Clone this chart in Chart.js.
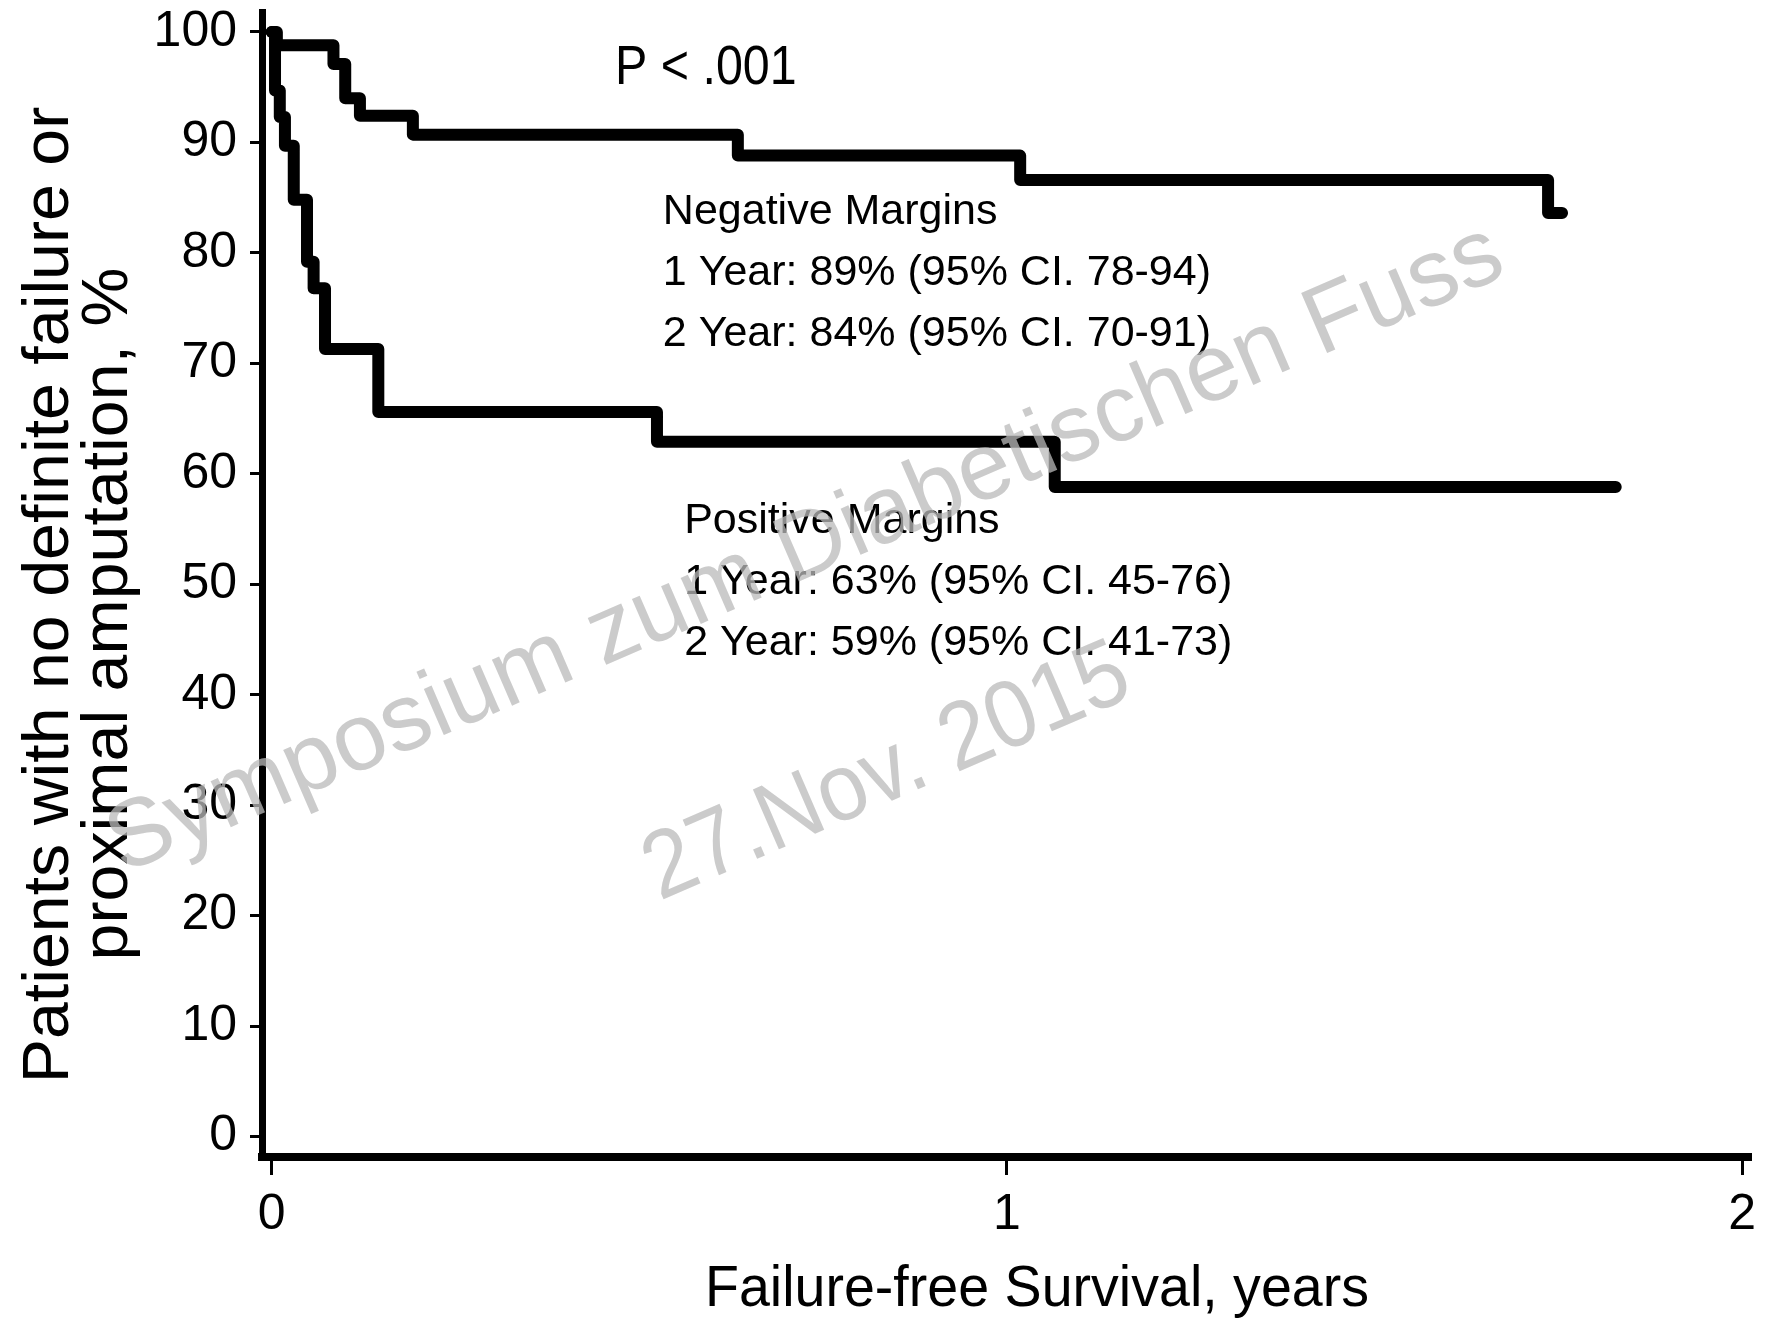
<!DOCTYPE html>
<html>
<head>
<meta charset="utf-8">
<title>Failure-free survival by margin status</title>
<script src="https://cdn.jsdelivr.net/npm/chart.js@4.4.1/dist/chart.umd.min.js"></script>
<style>
  html, body { margin: 0; padding: 0; background: #fff; }
  #wrap { width: 1768px; height: 1326px; position: relative; }
</style>
</head>
<body>
<div id="wrap"><canvas id="kmChart"></canvas></div>
<script>
// Kaplan-Meier steps (time in years, % without failure)
const negTimes = [0, 0.007, 0.084, 0.100, 0.120, 0.192, 0.634, 1.018, 1.736, 1.755];
const negSurv  = [100, 98.8, 97.1, 94.0, 92.4, 90.7, 88.8, 86.6, 83.6, 83.6];

const posTimes = [0, 0.0045, 0.011, 0.018, 0.030, 0.048, 0.057, 0.0725, 0.145, 0.524, 1.065, 1.828];
const posSurv  = [100, 94.7, 92.3, 89.7, 84.8, 79.2, 76.8, 71.3, 65.6, 62.9, 58.8, 58.8];

const xTicks = [0, 1, 2];
const yTicks = [0, 10, 20, 30, 40, 50, 60, 70, 80, 90, 100];

const xTitle = 'Failure-free Survival, years';
const yTitle = ['Patients with no definite failure or', 'proximal amputation, %'];
const pValueText = 'P < .001';
const negLabels = ['Negative Margins', '1 Year: 89% (95% CI. 78-94)', '2 Year: 84% (95% CI. 70-91)'];
const posLabels = ['Positive Margins', '1 Year: 63% (95% CI. 45-76)', '2 Year: 59% (95% CI. 41-73)'];
const watermark = ['Symposium zum Diabetischen Fuss', '27.Nov. 2015'];

const SANS = '"Liberation Sans", Arial, sans-serif';

function toPoints(times, surv) {
    return times.map((t, i) => ({ x: t, y: surv[i] }));
}

function putText(ctx, str, x, y, opts) {
    ctx.save();
    ctx.translate(x, y);
    if (opts.rotate) ctx.rotate(opts.rotate);
    ctx.scale(opts.sx || 1, 1);
    ctx.font = opts.font;
    ctx.fillStyle = opts.color || '#000';
    ctx.textAlign = opts.align || 'left';
    ctx.textBaseline = 'alphabetic';
    ctx.fillText(str, 0, 0);
    ctx.restore();
}

const textPlugin = {
    id: 'kmText',
    afterDatasetsDraw(chart) {
        const ctx = chart.ctx;
        const xs = chart.scales.x;
        const ys = chart.scales.y;

        // p value and the two summary blocks, anchored in data units
        putText(ctx, pValueText, xs.getPixelForValue(0.467), ys.getPixelForValue(95.3),
            { font: '55px ' + SANS, sx: 0.88 });

        const nx = xs.getPixelForValue(0.532);
        const ny = ys.getPixelForValue(82.6);
        negLabels.forEach((s, i) => putText(ctx, s, nx, ny + i * 61, { font: '43px ' + SANS }));

        const px = xs.getPixelForValue(0.561);
        const py = ys.getPixelForValue(54.6);
        posLabels.forEach((s, i) => putText(ctx, s, px, py + i * 61, { font: '43px ' + SANS }));
    },
    afterDraw(chart) {
        const ctx = chart.ctx;

        // axis titles
        putText(ctx, xTitle, 1037, 1306, { font: '57px ' + SANS, align: 'center', sx: 0.975 });
        putText(ctx, yTitle[0], 68, 595, { font: '65px ' + SANS, align: 'center', rotate: -Math.PI / 2, sx: 1.02 });
        putText(ctx, yTitle[1], 127, 614, { font: '65px ' + SANS, align: 'center', rotate: -Math.PI / 2, sx: 1.02 });

        // watermark over everything
        const ang = -23.4 * Math.PI / 180;
        const c = Math.cos(ang), s = Math.sin(ang);
        const wm = { font: '95px ' + SANS, align: 'center', rotate: ang, color: 'rgba(185,185,185,0.75)' };
        putText(ctx, watermark[0], 816, 574, wm);
        // second line: 238px below the first, nudged back along the text
        const along = -14, below = 238;
        putText(ctx, watermark[1], 816 + along * c - below * s, 574 + along * s + below * c,
            Object.assign({}, wm, { sx: 0.93 }));
    }
};

const lineStyle = {
    borderColor: '#000',
    borderWidth: 12,
    stepped: 'before',
    pointRadius: 0,
    borderCapStyle: 'round',
    borderJoinStyle: 'round',
    fill: false
};

new Chart(document.getElementById('kmChart').getContext('2d'), {
    type: 'line',
    data: {
        datasets: [
            Object.assign({ label: 'Negative Margins', data: toPoints(negTimes, negSurv) }, lineStyle),
            Object.assign({ label: 'Positive Margins', data: toPoints(posTimes, posSurv) }, lineStyle)
        ]
    },
    options: {
        responsive: true,
        maintainAspectRatio: false,
        animation: false,
        layout: { padding: { top: 12, right: 17, bottom: 0, left: 0 } },
        plugins: {
            legend: { display: false },
            tooltip: { enabled: false }
        },
        scales: {
            x: {
                type: 'linear',
                min: -0.0132,
                max: 2.012,
                afterBuildTicks: (s) => { s.ticks = xTicks.map(v => ({ value: v })); },
                afterFit: (s) => { s.height = 169; s.paddingLeft = 0; s.paddingRight = 0; },
                ticks: {
                    autoSkip: false,
                    maxRotation: 0,
                    padding: 10,
                    color: '#000',
                    font: { family: SANS, size: 50 },
                    callback: (v) => String(v)
                },
                grid: { drawOnChartArea: false, tickLength: 18, tickWidth: 3, tickColor: '#000' },
                border: { display: true, color: '#000', width: 8 }
            },
            y: {
                type: 'linear',
                min: -1.84,
                max: 101.8,
                afterBuildTicks: (s) => { s.ticks = yTicks.map(v => ({ value: v })); },
                afterFit: (s) => { s.width = 262; s.paddingTop = 0; s.paddingBottom = 0; },
                ticks: {
                    autoSkip: false,
                    padding: 13,
                    color: '#000',
                    font: { family: SANS, size: 50 },
                    callback: (v) => String(v)
                },
                grid: { drawOnChartArea: false, tickLength: 12, tickWidth: 3, tickColor: '#000' },
                border: { display: true, color: '#000', width: 7 }
            }
        }
    },
    plugins: [textPlugin]
});
</script>
</body>
</html>
